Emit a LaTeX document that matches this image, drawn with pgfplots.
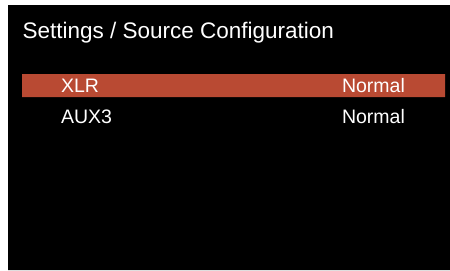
\documentclass[border=0pt]{standalone}
\usepackage{pgfplots}
\pgfplotsset{compat=1.18}
\usepackage{fontspec}
\setmainfont{Liberation Sans}
\definecolor{selred}{HTML}{B94A33}
\tikzset{lbl/.style={text=white, inner sep=0pt, outer sep=0pt, anchor=base west}}
\begin{document}
\begin{tikzpicture}
\begin{axis}[
  scale only axis, width=450bp, height=270bp,
  xmin=0, xmax=450, ymin=0, ymax=270, y dir=reverse,
  axis lines=none, clip=false,
]
% white margin
\addplot[fill=white, draw=none, mark=none] coordinates {(0,0) (450,0) (450,270) (0,270) (0,0)};
% black screen
\addplot[fill=black, draw=none, mark=none] coordinates {(8,5) (450,5) (450,270) (8,270) (8,5)};
% selected row bar
\addplot[fill=selred, draw=none, mark=none] coordinates {(22,74) (445,74) (445,97) (22,97) (22,74)};
\node[lbl, font=\fontsize{22.5bp}{26bp}\selectfont] at (axis cs:22.5,38) {Settings / Source Configuration};
\node[lbl, font=\fontsize{19.5bp}{23bp}\selectfont] at (axis cs:61,92.5) {XLR};
\node[lbl, font=\fontsize{19.5bp}{23bp}\selectfont] at (axis cs:342,92.5) {Normal};
\node[lbl, font=\fontsize{19.5bp}{23bp}\selectfont] at (axis cs:61,123.5) {AUX3};
\node[lbl, font=\fontsize{19.5bp}{23bp}\selectfont] at (axis cs:342,123.5) {Normal};
\end{axis}
\end{tikzpicture}
\end{document}
